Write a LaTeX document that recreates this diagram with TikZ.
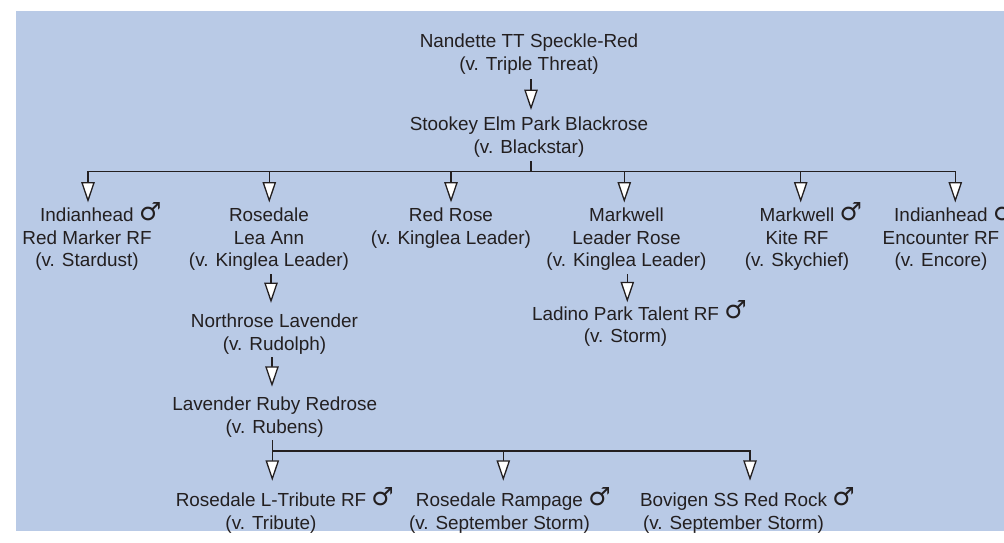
\documentclass[tikz,border=0pt]{standalone}
\usepackage{fontspec}
\setmainfont{Liberation Sans}
\newfontfamily\dvsfont{DejaVu Sans}
\usetikzlibrary{arrows.meta}
\definecolor{bg}{RGB}{185,202,230}
\definecolor{ink}{RGB}{35,31,32}
\newcommand\ms{\rlap{\ \smash{\raisebox{1.5pt}{\dvsfont\fontsize{25}{25}\selectfont ♂}}}}
\newcommand\FS{\rule{0pt}{18pt}}
\newcommand\LS{\rule[-6pt]{0pt}{6pt}}
\begin{document}
\begin{tikzpicture}[x=1pt,y=-1pt,
  lbl/.style={anchor=north,inner sep=0pt,outer sep=0pt,align=center,text=ink,
    font=\fontsize{18.9}{22.6}\selectfont},
  wire/.style={draw=ink,line width=1.3pt,line cap=rect},
  arr/.style={wire,-{Triangle[width=13.5pt,length=20.5pt,fill=white]}}]
\useasboundingbox (0,0) rectangle (1004,543);
\clip (0,0) rectangle (1004,543);
\fill[bg] (16,11) rectangle (1010,531);

% nodes
\node[lbl] (top) at (529,29.45) {\FS Nandette TT Speckle-Red\\(v. Triple Threat)\LS};
\node[lbl] (stookey) at (529,112.75) {\FS Stookey Elm Park Blackrose\\(v. Blackstar)\LS};
\node[lbl] (ind1) at (87,203.75) {\FS Indianhead\ms\\Red Marker RF\\(v. Stardust)\LS};
\node[lbl] (lea) at (269,203.75) {\FS Rosedale\\Lea Ann\\(v. Kinglea Leader)\LS};
\node[lbl] (red) at (451,203.75) {\FS Red Rose\\(v. Kinglea Leader)\LS};
\node[lbl] (mlr) at (626.5,203.75) {\FS Markwell\\Leader Rose\\(v. Kinglea Leader)\LS};
\node[lbl] (mkt) at (797,203.75) {\FS Markwell\ms\\Kite RF\\(v. Skychief)\LS};
\node[lbl] (ind2) at (941,203.75) {\FS Indianhead\ms\\Encounter RF\\(v. Encore)\LS};
\node[lbl] (nor) at (274.5,309.75) {\FS Northrose Lavender\\(v. Rudolph)\LS};
\node[lbl] (lad) at (625.5,302.25) {\FS Ladino Park Talent RF\ms\\(v. Storm)\LS};
\node[lbl] (lav) at (274.7,392.75) {\FS Lavender Ruby Redrose\\(v. Rubens)\LS};
\node[lbl] (trib) at (271,488.75) {\FS Rosedale L-Tribute RF\ms\\(v. Tribute)\LS};
\node[lbl] (ramp) at (499.5,488.75) {\FS Rosedale Rampage\ms\\(v. September Storm)\LS};
\node[lbl] (bov) at (733.5,488.75) {\FS Bovigen SS Red Rock\ms\\(v. September Storm)\LS};

% top link
\coordinate (a0) at (531,0);
\draw[arr,shorten <=4pt,shorten >=2.75pt] (a0 |- top.south) -- (a0 |- stookey.north);

% first bus
\coordinate (b1s) at (531,171.7);
\draw[wire,shorten <=2.25pt] (b1s |- stookey.south) -- (b1s);
\coordinate (j1) at (88,171.7);
\coordinate (j2) at (269.3,171.7);
\coordinate (j3) at (451,171.7);
\coordinate (j4) at (624.3,171.7);
\coordinate (j5) at (800.7,171.7);
\coordinate (j6) at (955.3,171.7);
\draw[wire] (j1) -- (j6);
\foreach \j/\n in {j1/ind1,j2/lea,j3/red,j4/mlr,j5/mkt,j6/ind2}
  \draw[arr,shorten >=1.25pt] (\j) -- (\j |- \n.north);

% single links
\coordinate (c1) at (271,0);
\draw[arr,shorten <=1.25pt,shorten >=6.75pt] (c1 |- lea.south) -- (c1 |- nor.north);
\coordinate (c2) at (627.3,0);
\draw[arr,shorten <=1.25pt] (c2 |- mlr.south) -- (c2 |- lad.north);
\coordinate (c3) at (272,0);
\draw[arr,shorten <=1.25pt,shorten >=6pt] (c3 |- nor.south) -- (c3 |- lav.north);

% second bus
\coordinate (k1) at (272.3,451);
\coordinate (k2) at (503.3,451);
\coordinate (k3) at (750,451);
\draw[wire,shorten <=1.25pt] (k1 |- lav.south) -- (k1);
\draw[wire] (k1) -- (k3);
\foreach \k/\n in {k1/trib,k2/ramp,k3/bov}
  \draw[arr,shorten >=8pt] (\k) -- (\k |- \n.north);
\end{tikzpicture}
\end{document}
